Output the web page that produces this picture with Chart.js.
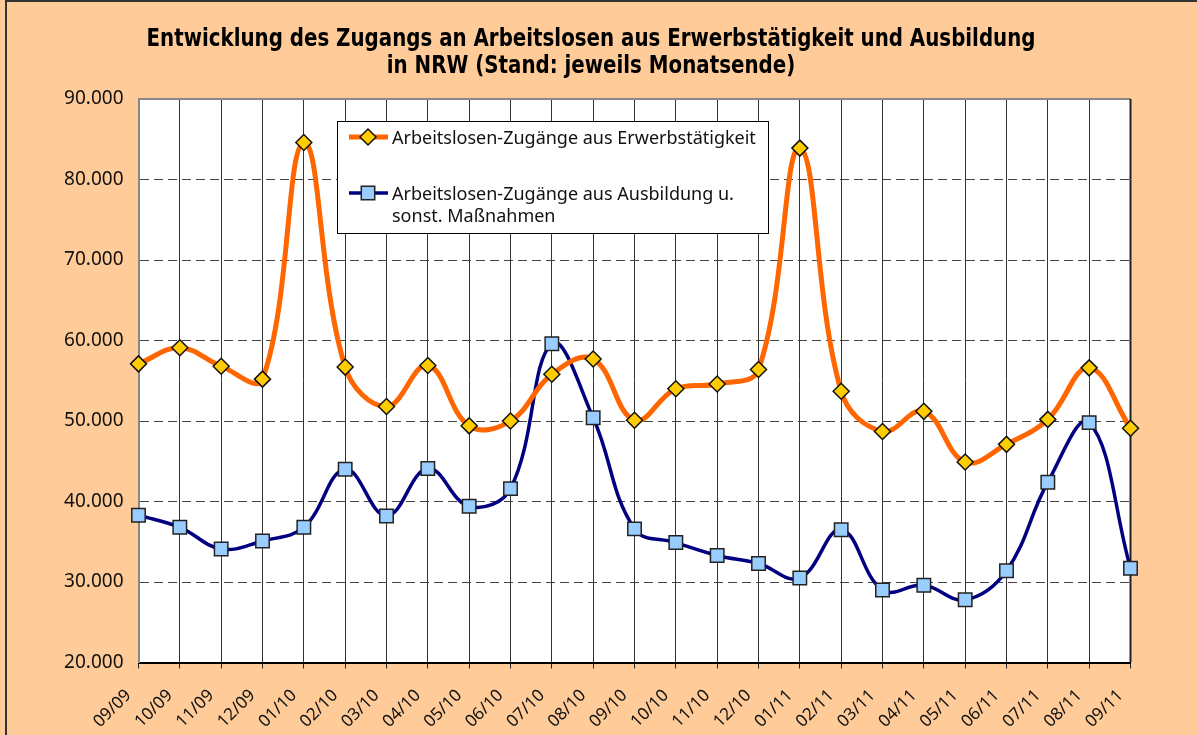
<!DOCTYPE html>
<html lang="de">
<head>
<meta charset="utf-8">
<title>Zugang an Arbeitslosen NRW</title>
<script src="https://cdn.jsdelivr.net/npm/chart.js@4.4.1/dist/chart.umd.min.js"></script>
<style>
  html, body { margin: 0; padding: 0; background: #FFCC99; }
  #wrap { width: 1197px; height: 735px; }
</style>
</head>
<body>
<div id="wrap"><canvas id="chart" width="1197" height="735"></canvas></div>
<script>
var months = ['09/09', '10/09', '11/09', '12/09', '01/10', '02/10', '03/10', '04/10', '05/10', '06/10',
              '07/10', '08/10', '09/10', '10/10', '11/10', '12/10', '01/11', '02/11', '03/11', '04/11',
              '05/11', '06/11', '07/11', '08/11', '09/11'];
var erwerb = [57100, 59100, 56800, 55200, 84600, 56700, 51800, 56900, 49400, 50000,
              55800, 57700, 50100, 54000, 54600, 56400, 83900, 53700, 48700, 51200,
              44900, 47100, 50200, 56600, 49100];
var ausbildung = [38300, 36800, 34100, 35100, 36800, 44000, 38200, 44100, 39400, 41600,
                  59600, 50400, 36600, 34900, 33300, 32300, 30500, 36500, 29000, 29600,
                  27800, 31400, 42400, 49800, 31700];
var seriesNames = ['Arbeitslosen-Zugänge aus Erwerbstätigkeit',
                   'Arbeitslosen-Zugänge aus Ausbildung u. sonst. Maßnahmen'];
var titleLines = ['Entwicklung des Zugangs an Arbeitslosen aus Erwerbstätigkeit und Ausbildung',
                  'in NRW (Stand: jeweils Monatsende)'];
var yMin = 20000, yMax = 90000, yStep = 10000;

var PEACH = '#FFCC99';
var ORANGE = '#FF6600';
var NAVY = '#000080';
var FONT = '"Noto Sans", "DejaVu Sans", sans-serif';

function fmt(v) {
    return String(v).replace(/\B(?=(\d{3})+(?!\d))/g, '.');
}

// peach page, white plot area, thin frame around the picture
var backgroundPlugin = {
    id: 'background',
    beforeDraw: function(chart) {
        var ctx = chart.ctx, a = chart.chartArea;
        ctx.save();
        ctx.fillStyle = PEACH;
        ctx.fillRect(0, 0, chart.width, chart.height);
        ctx.fillStyle = '#FFFFFF';
        ctx.fillRect(a.left, a.top, a.right - a.left, a.bottom - a.top);
        ctx.strokeStyle = '#333';
        ctx.lineWidth = 2;
        ctx.beginPath();
        ctx.moveTo(6, chart.height);
        ctx.lineTo(6, 1);
        ctx.lineTo(chart.width, 1);
        ctx.stroke();
        ctx.restore();
    },
    beforeDatasetsDraw: function(chart) {
        var ctx = chart.ctx, a = chart.chartArea;
        ctx.save();
        ctx.strokeStyle = '#888';
        ctx.lineWidth = 2;
        ctx.beginPath();
        ctx.moveTo(a.left, a.top);
        ctx.lineTo(a.right, a.top);
        ctx.stroke();
        ctx.strokeStyle = '#222';
        ctx.beginPath();
        ctx.moveTo(a.right, a.top);
        ctx.lineTo(a.right, a.bottom);
        ctx.stroke();
        ctx.restore();
    }
};

var titlePlugin = {
    id: 'titleLines',
    afterDraw: function(chart) {
        var ctx = chart.ctx;
        ctx.save();
        ctx.fillStyle = '#000';
        ctx.textAlign = 'center';
        ctx.textBaseline = 'middle';
        ctx.font = 'bold 24px "Liberation Sans Narrow", "DejaVu Sans Condensed", sans-serif';
        // squeeze to the narrow width of the original headline
        var sx = 889 / ctx.measureText(titleLines[0]).width;
        ctx.translate(591, 0);
        ctx.scale(sx, 1);
        ctx.fillText(titleLines[0], 0, 40);
        ctx.fillText(titleLines[1], 0, 67);
        ctx.restore();
    }
};

function wrapText(ctx, text, maxWidth) {
    var words = text.split(' '), lines = [], cur = '';
    words.forEach(function(w) {
        var test = cur ? cur + ' ' + w : w;
        if (cur && ctx.measureText(test).width > maxWidth) { lines.push(cur); cur = w; }
        else cur = test;
    });
    if (cur) lines.push(cur);
    return lines;
}

// legend box inside the plot, like the original
var legendPlugin = {
    id: 'boxLegend',
    afterDraw: function(chart) {
        var ctx = chart.ctx;
        var box = { x: 337.5, y: 121.5, w: 431, h: 112 };
        var rows = [137, 193];
        ctx.save();
        ctx.fillStyle = '#FFF';
        ctx.fillRect(box.x, box.y, box.w, box.h);
        ctx.strokeStyle = '#000';
        ctx.lineWidth = 1;
        ctx.strokeRect(box.x, box.y, box.w, box.h);
        ctx.font = '18px ' + FONT;
        ctx.textBaseline = 'middle';
        ctx.textAlign = 'left';
        chart.data.datasets.forEach(function(ds, i) {
            var y = rows[i];
            ctx.strokeStyle = ds.borderColor;
            ctx.lineWidth = ds.borderWidth;
            ctx.beginPath();
            ctx.moveTo(349, y);
            ctx.lineTo(388, y);
            ctx.stroke();
            ctx.fillStyle = ds.pointBackgroundColor;
            ctx.strokeStyle = ds.pointBorderColor;
            ctx.lineWidth = ds.pointBorderWidth;
            Chart.helpers.drawPoint(ctx, { pointStyle: ds.pointStyle, radius: ds.pointRadius, borderWidth: ds.pointBorderWidth, rotation: 0 }, 368, y);
            ctx.fillStyle = '#111';
            var lines = wrapText(ctx, ds.label, 372);
            lines.forEach(function(l, k) {
                ctx.fillText(l, 392, y + 2 + k * 22);
            });
        });
        ctx.restore();
    }
};

var ctx = document.getElementById('chart').getContext('2d');
var chart = new Chart(ctx, {
    type: 'line',
    data: {
        labels: months,
        datasets: [
            {
                label: seriesNames[0],
                data: erwerb,
                borderColor: ORANGE,
                borderWidth: 5,
                tension: 0.4,
                pointStyle: 'rectRot',
                pointRadius: 8,
                pointBackgroundColor: '#FFCC00',
                pointBorderColor: '#111',
                pointBorderWidth: 1.5
            },
            {
                label: seriesNames[1],
                data: ausbildung,
                borderColor: NAVY,
                borderWidth: 3.5,
                tension: 0.4,
                pointStyle: 'rect',
                pointRadius: 9.5,
                pointBackgroundColor: '#99CCFF',
                pointBorderColor: '#222',
                pointBorderWidth: 1.5
            }
        ]
    },
    options: {
        responsive: false,
        devicePixelRatio: 1,
        animation: false,
        layout: { padding: { top: 99, right: 66.5, bottom: 0, left: 0 } },
        plugins: {
            legend: { display: false },
            title: { display: false },
            tooltip: { enabled: false }
        },
        scales: {
            x: {
                afterFit: function(scale) { scale.height = 72.5; },
                grid: { color: '#333', lineWidth: 1, drawTicks: true, tickLength: 6, tickColor: '#222' },
                border: { display: true, color: '#000', width: 2 },
                ticks: {
                    autoSkip: false,
                    minRotation: 45,
                    maxRotation: 45,
                    padding: 17,
                    labelOffset: -10,
                    color: '#111',
                    font: { family: FONT, size: 17 }
                }
            },
            y: {
                min: yMin,
                max: yMax,
                afterFit: function(scale) { scale.width = 138.5; },
                grid: { color: '#444', lineWidth: 1, drawTicks: false },
                border: { display: true, color: '#888', width: 2, dash: [9, 5] },
                ticks: {
                    stepSize: yStep,
                    padding: 15,
                    color: '#111',
                    font: { family: FONT, size: 19 },
                    callback: function(v) { return fmt(v); }
                }
            }
        }
    },
    plugins: [backgroundPlugin, titlePlugin, legendPlugin]
});
</script>
</body>
</html>
